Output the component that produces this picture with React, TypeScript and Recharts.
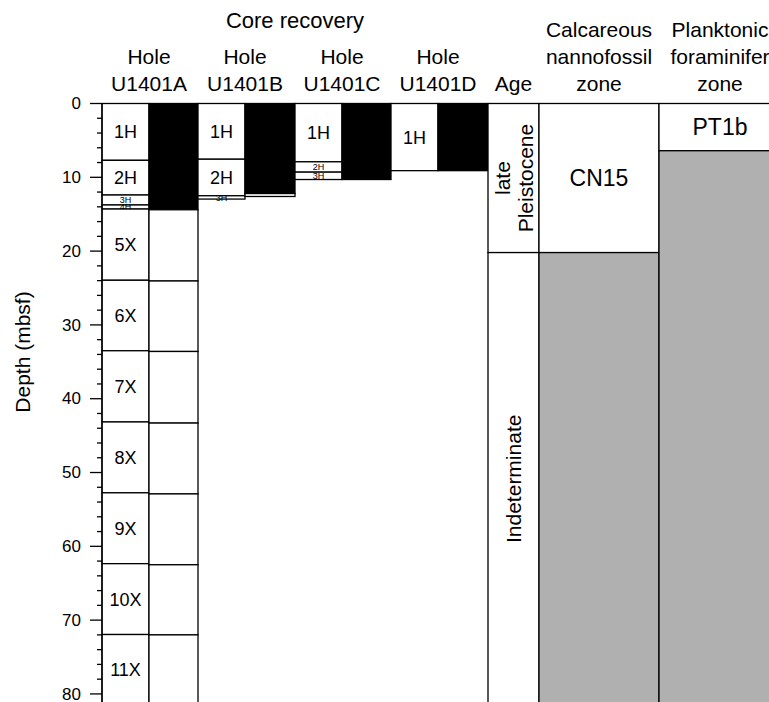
import React from "react";
import { ComposedChart, XAxis, YAxis, ReferenceArea } from "recharts";

const FONT = '"Liberation Sans", Arial, Helvetica, sans-serif';

// cored intervals (mbsf)
const holeA = [
  { core: "1H", top: 0, bottom: 7.7 },
  { core: "2H", top: 7.7, bottom: 12.4 },
  { core: "3H", top: 12.4, bottom: 13.75 },
  { core: "4H", top: 13.75, bottom: 14.3 },
  { core: "5X", top: 14.3, bottom: 23.95 },
  { core: "6X", top: 23.95, bottom: 33.5 },
  { core: "7X", top: 33.5, bottom: 43.15 },
  { core: "8X", top: 43.15, bottom: 52.75 },
  { core: "9X", top: 52.75, bottom: 62.35 },
  { core: "10X", top: 62.35, bottom: 71.95 },
  { core: "11X", top: 71.95, bottom: 81.5 },
];
const holeB = [
  { core: "1H", top: 0, bottom: 7.55 },
  { core: "2H", top: 7.55, bottom: 12.5 },
  { core: "3H", top: 12.5, bottom: 12.95 },
];
const holeC = [
  { core: "1H", top: 0, bottom: 7.9 },
  { core: "2H", top: 7.9, bottom: 9.3 },
  { core: "3H", top: 9.3, bottom: 10.3 },
];
const holeD = [{ core: "1H", top: 0, bottom: 9.1 }];

// recovered intervals
const recA = [
  { top: 0, bottom: 14.4, solid: true },
  { top: 14.4, bottom: 24.05, solid: false },
  { top: 24.05, bottom: 33.6, solid: false },
  { top: 33.6, bottom: 43.3, solid: false },
  { top: 43.3, bottom: 52.9, solid: false },
  { top: 52.9, bottom: 62.5, solid: false },
  { top: 62.5, bottom: 72.0, solid: false },
  { top: 72.0, bottom: 81.5, solid: false },
];
const recB = [
  { top: 0, bottom: 12.2, solid: true },
  { top: 12.2, bottom: 12.6, solid: false },
];
const recC = [{ top: 0, bottom: 10.3, solid: true }];
const recD = [{ top: 0, bottom: 9.1, solid: true }];

// biostratigraphy
const ageZones = [
  { name: ["late", "Pleistocene"], top: 0, bottom: 20.2, barren: false },
  { name: ["Indeterminate"], top: 20.2, bottom: 81.5, barren: false },
];
const nannoZones = [
  { name: "CN15", top: 0, bottom: 20.2, barren: false },
  { name: "", top: 20.2, bottom: 81.5, barren: true },
];
const foramZones = [
  { name: "PT1b", top: 0, bottom: 6.4, barren: false },
  { name: "", top: 6.4, bottom: 81.5, barren: true },
];

const holeNames = ["U1401A", "U1401B", "U1401C", "U1401D"];
const depthTicks = [0, 2, 4, 6, 8, 10, 12, 14, 16, 18, 20, 22, 24, 26, 28, 30, 32, 34, 36, 38, 40, 42, 44, 46, 48, 50, 52, 54, 56, 58, 60, 62, 64, 66, 68, 70, 72, 74, 76, 78, 80];
const maxDepth = 81.5;

// layout
const AXIS_W = 102;
const TOP = 103.5;
const CHART_H = 705;
const colWidths = [47, 49, 47, 50, 47, 49, 47, 50, 51, 120, 122];
const edges = colWidths.reduce((acc: number[], w) => [...acc, acc[acc.length - 1] + w], [0]);
const TOTAL = edges[edges.length - 1];
const GRAY = "#b0b0b0";
const SW = 1.3;

const boxShape = (
  fill: string,
  lines: string[],
  opts: { vertical?: boolean; size?: number; lineGap?: number } = {}
) => (p: any) => {
  const { x, y, width, height } = p;
  const cx = x + width / 2;
  const cy = y + height / 2;
  let size = opts.size ?? 18;
  if (!opts.vertical && height < 16) size = 9;
  const lh = opts.lineGap ?? size * 1.15;
  return (
    <g>
      <rect x={x} y={y} width={width} height={height} fill={fill} stroke="#000" strokeWidth={SW} />
      {lines.length > 0 && lines[0] !== "" && (
        <text
          x={cx}
          y={cy}
          fontFamily={FONT}
          fontSize={size}
          fill="#000"
          textAnchor="middle"
          transform={opts.vertical ? `rotate(-90, ${cx}, ${cy})` : undefined}
        >
          {lines.map((t, i) => (
            <tspan key={i} x={cx} dy={i === 0 ? (-(lines.length - 1) * lh) / 2 + size * 0.36 : lh}>
              {t}
            </tspan>
          ))}
        </text>
      )}
    </g>
  );
};

const DepthTick = (props: any) => {
  const { x, y, payload } = props;
  const major = payload.value % 10 === 0;
  return (
    <g>
      <line x1={x - (major ? 12 : 5)} x2={x} y1={y} y2={y} stroke="#000" strokeWidth={SW} />
      {major && (
        <text x={x - 21} y={y} dy="0.33em" textAnchor="end" fontFamily={FONT} fontSize={17} fill="#000">
          {payload.value}
        </text>
      )}
    </g>
  );
};

const coreAreas = (cores: { core: string; top: number; bottom: number }[], col: number, key: string) =>
  cores.map((c, i) => (
    <ReferenceArea
      key={`${key}${i}`}
      x1={edges[col]}
      x2={edges[col + 1]}
      y1={c.top}
      y2={c.bottom}
      ifOverflow="visible"
      shape={boxShape("#fff", [c.core])}
    />
  ));

const recAreas = (rec: { top: number; bottom: number; solid: boolean }[], col: number, key: string) =>
  rec.map((r, i) => (
    <ReferenceArea
      key={`${key}${i}`}
      x1={edges[col]}
      x2={edges[col + 1]}
      y1={r.top}
      y2={r.bottom}
      ifOverflow="visible"
      shape={boxShape(r.solid ? "#000" : "#fff", [])}
    />
  ));

export default function App() {
  const headerX = (i: number) => AXIS_W + edges[i * 2 + 1];
  const ageX = AXIS_W + (edges[8] + edges[9]) / 2;
  const nannoX = AXIS_W + (edges[9] + edges[10]) / 2;
  const foramX = AXIS_W + (edges[10] + edges[11]) / 2;
  const coreRecX = AXIS_W + edges[8] / 2;
  return (
    <div style={{ position: "absolute", left: 0, top: 0, width: AXIS_W + TOTAL, height: CHART_H, background: "#fff" }}>
      <ComposedChart
        width={AXIS_W + TOTAL}
        height={CHART_H}
        margin={{ top: TOP, right: 0, bottom: 0, left: 0 }}
      >
        <XAxis type="number" dataKey="x" domain={[0, TOTAL]} hide allowDataOverflow />
        <YAxis
          type="number"
          domain={[0, maxDepth]}
          reversed
          allowDataOverflow
          ticks={depthTicks}
          interval={0}
          width={AXIS_W}
          tickSize={0}
          tickMargin={0}
          tickLine={false}
          tick={<DepthTick />}
          axisLine={{ stroke: "#000", strokeWidth: SW }}
        />
        {coreAreas(holeA, 0, "a")}
        {recAreas(recA, 1, "ra")}
        {coreAreas(holeB, 2, "b")}
        {recAreas(recB, 3, "rb")}
        {coreAreas(holeC, 4, "c")}
        {recAreas(recC, 5, "rc")}
        {coreAreas(holeD, 6, "d")}
        {recAreas(recD, 7, "rd")}
        {ageZones.map((z, i) => (
          <ReferenceArea
            key={`age${i}`}
            x1={edges[8]}
            x2={edges[9]}
            y1={z.top}
            y2={z.bottom}
            ifOverflow="visible"
            shape={boxShape(z.barren ? GRAY : "#fff", z.name, { vertical: true, size: 21, lineGap: 23 })}
          />
        ))}
        {nannoZones.map((z, i) => (
          <ReferenceArea
            key={`nan${i}`}
            x1={edges[9]}
            x2={edges[10]}
            y1={z.top}
            y2={z.bottom}
            ifOverflow="visible"
            shape={boxShape(z.barren ? GRAY : "#fff", [z.name], { size: 23 })}
          />
        ))}
        {foramZones.map((z, i) => (
          <ReferenceArea
            key={`for${i}`}
            x1={edges[10]}
            x2={edges[11]}
            y1={z.top}
            y2={z.bottom}
            ifOverflow="visible"
            shape={boxShape(z.barren ? GRAY : "#fff", [z.name], { size: 23 })}
          />
        ))}
      </ComposedChart>
      <svg
        width={AXIS_W + TOTAL}
        height={CHART_H}
        style={{ position: "absolute", left: 0, top: 0, pointerEvents: "none" }}
        fontFamily={FONT}
        fontSize={21}
        fill="#000"
      >
        <text x={coreRecX} y={28} textAnchor="middle" fontSize={22}>Core recovery</text>
        {holeNames.map((h, i) => (
          <g key={h}>
            <text x={headerX(i)} y={64} textAnchor="middle">Hole</text>
            <text x={headerX(i)} y={91} textAnchor="middle">{h}</text>
          </g>
        ))}
        <text x={ageX} y={91} textAnchor="middle">Age</text>
        <text x={nannoX} y={37} textAnchor="middle">Calcareous</text>
        <text x={nannoX} y={64} textAnchor="middle">nannofossil</text>
        <text x={nannoX} y={91} textAnchor="middle">zone</text>
        <text x={foramX} y={37} textAnchor="middle">Planktonic</text>
        <text x={foramX} y={64} textAnchor="middle">foraminifer</text>
        <text x={foramX} y={91} textAnchor="middle">zone</text>
        <text x={30} y={352} textAnchor="middle" transform="rotate(-90, 30, 352)">Depth (mbsf)</text>
      </svg>
    </div>
  );
}
